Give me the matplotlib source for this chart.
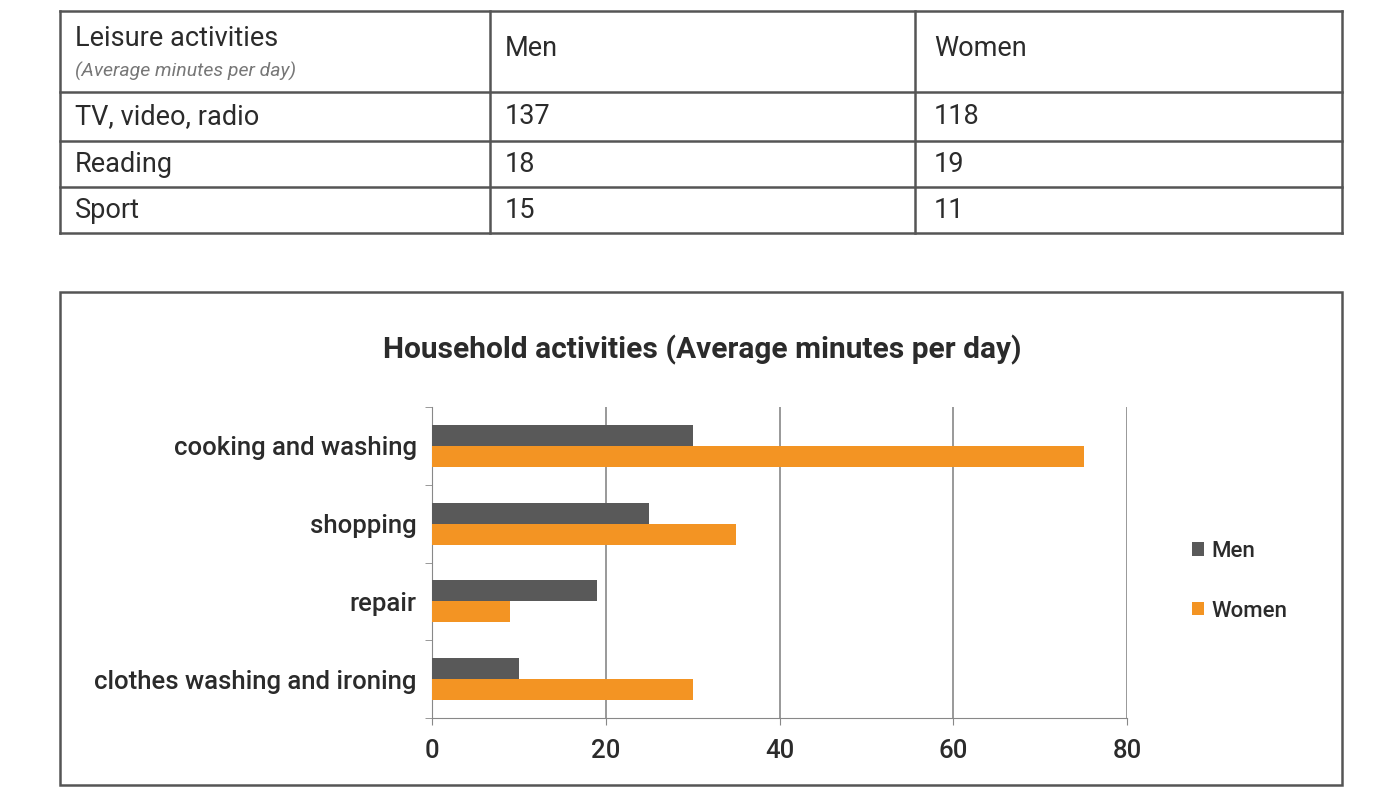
import matplotlib.pyplot as plt
from matplotlib.patches import Rectangle
import numpy as np

plt.rcParams['font.family'] = ['Roboto', 'DejaVu Sans']

# leisure table
leisure_header = ['Leisure activities', 'Men', 'Women']
leisure_sub = '(Average minutes per day)'
leisure_rows = ['TV, video, radio', 'Reading', 'Sport']
leisure_men = [137, 18, 15]
leisure_women = [118, 19, 11]

# household chart
household_cats = ['cooking and washing', 'shopping', 'repair', 'clothes washing and ironing']
household_men = [30, 25, 19, 10]
household_women = [75, 35, 9, 30]

men_color = '#595959'
women_color = '#F39423'
text_color = '#2b2b2b'
W, H = 1400, 800

fig = plt.figure(figsize=(14, 8), dpi=100)

# full-figure overlay in pixel coords for the table and the frame
bg = fig.add_axes([0, 0, 1, 1])
bg.set_xlim(0, W)
bg.set_ylim(H, 0)
bg.axis('off')

col_x = [60, 490, 915, 1342]
row_y = [11, 92, 141, 187, 233]
for x in col_x:
    bg.plot([x, x], [row_y[0], row_y[-1]], color='#555555', lw=1.8)
for y in row_y:
    bg.plot([col_x[0], col_x[-1]], [y, y], color='#555555', lw=1.8)

fs = 19.5
bg.text(75, 38, leisure_header[0], fontsize=fs, color=text_color, va='center')
bg.text(75, 71, leisure_sub, fontsize=14, style='italic', color='#777777', va='center')
bg.text(col_x[1] + 15, 49, leisure_header[1], fontsize=fs, color=text_color, va='center')
bg.text(col_x[2] + 19, 49, leisure_header[2], fontsize=fs, color=text_color, va='center')
for i, name in enumerate(leisure_rows):
    yc = (row_y[i + 1] + row_y[i + 2]) / 2
    bg.text(75, yc, name, fontsize=fs, color=text_color, va='center')
    bg.text(col_x[1] + 15, yc, str(leisure_men[i]), fontsize=fs, color=text_color, va='center')
    bg.text(col_x[2] + 19, yc, str(leisure_women[i]), fontsize=fs, color=text_color, va='center')

# chart frame
bg.add_patch(Rectangle((60, 292), 1282, 493, fill=False, ec='#555555', lw=1.8))
bg.text(702, 350, 'Household activities (Average minutes per day)', fontsize=21.5,
        fontweight='bold', color=text_color, ha='center', va='center')

# bar chart axes
ax = fig.add_axes([432 / W, 1 - 718 / H, (1127 - 432) / W, (718 - 407) / H])
y = np.arange(len(household_cats))
h = 0.27
ax.barh(y - h / 2, household_men, height=h, color=men_color, label='Men', zorder=3)
ax.barh(y + h / 2, household_women, height=h, color=women_color, label='Women', zorder=3)
ax.set_ylim(len(household_cats) - 0.5, -0.5)
ax.set_xlim(0, 80)
ax.set_xticks([0, 20, 40, 60, 80])
ax.set_xticklabels(['0', '20', '40', '60', '80'], fontweight='medium')
ax.set_yticks(y)
ax.set_yticklabels(household_cats, fontsize=18.5, fontweight='medium', color=text_color)
ax.set_yticks(np.arange(len(household_cats) + 1) - 0.5, minor=True)
ax.tick_params(axis='y', which='major', length=0, pad=11)
ax.tick_params(axis='y', which='minor', length=5, color='#888888')
ax.tick_params(axis='x', length=5, color='#888888', labelsize=18.5, labelcolor=text_color, pad=10)
ax.grid(axis='x', color='#888888', lw=1.2, zorder=0)
for s in ['top', 'right']:
    ax.spines[s].set_visible(False)
ax.spines['left'].set_color('#888888')
ax.spines['bottom'].set_color('#888888')

ax.legend(loc='center left', bbox_to_anchor=(1.065, 0.44), frameon=False,
          prop={'size': 16, 'weight': 'medium'},
          handlelength=0.55, handleheight=0.55, handletextpad=0.3, labelspacing=1.75,
          labelcolor=text_color)

fig.savefig('out.png', dpi=100)
